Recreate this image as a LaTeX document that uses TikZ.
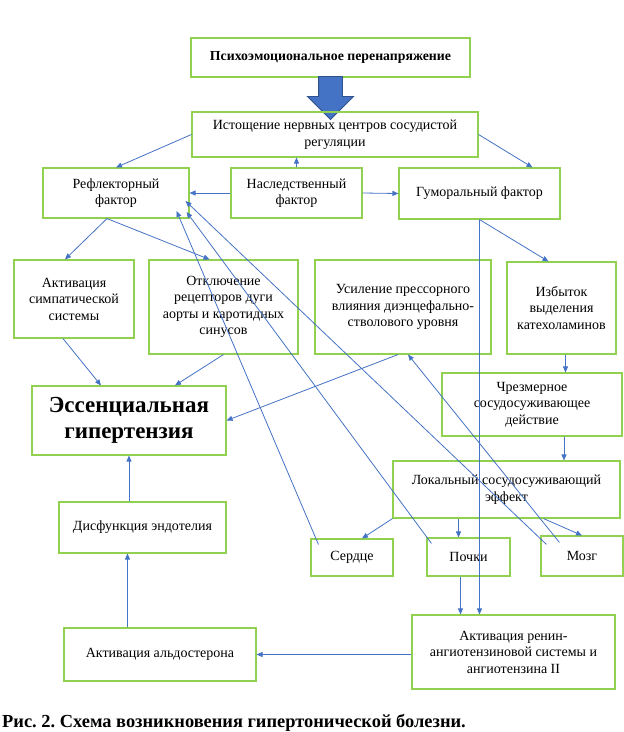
\documentclass[tikz,border=0pt]{standalone}
\usepackage{fontspec}
\setmainfont{Liberation Serif}
\frenchspacing
\usetikzlibrary{arrows.meta,calc,positioning,shapes.arrows}
\definecolor{boxgreen}{RGB}{146,208,80}
\definecolor{linkblue}{RGB}{68,114,196}
\definecolor{darkblue}{RGB}{47,82,143}
\tikzstyle{box} = [draw=boxgreen, line width=1.1pt, align=center, inner sep=2pt, font=\fontsize{14}{16.5}\selectfont]
\tikzstyle{arrow} = [draw=linkblue, line width=0.8pt, -{Triangle[length=6pt,width=5pt]}]
\begin{document}
\begin{tikzpicture}[x=1pt,y=-1pt]
\useasboundingbox (0,0) rectangle (624,732);
% top row
\draw (330.5,57.5) node (psycho) [box, minimum width=279pt, minimum height=39pt, font=\bfseries\fontsize{13.8}{16}\selectfont] {Психоэмоциональное перенапряжение};
\draw (330.5,92) node (bigarrow) [single arrow, shape border rotate=270, fill=linkblue, draw=darkblue, line width=0.8pt, inner sep=11.5pt, minimum height=43pt, single arrow head extend=11pt, single arrow head indent=0pt] {};
\draw (335,134.5) node (exhaust) [box, minimum width=286pt, minimum height=45pt] {Истощение нервных центров сосудистой\\регуляции};
\draw (116,193) node (reflex) [box, minimum width=146pt, minimum height=50pt] {Рефлекторный\\фактор};
\draw (296.5,193) node (hered) [box, minimum width=131pt, minimum height=50pt] {Наследственный\\фактор};
\draw (479.5,193.5) node (humoral) [box, minimum width=161pt, minimum height=51pt] {Гуморальный фактор};
% middle
\draw (74,299) node (sympact) [box, minimum width=120pt, minimum height=78pt] {Активация\\симпатической\\системы};
\draw (223.5,307) node (disable) [box, minimum width=149pt, minimum height=94pt] {Отключение\\рецепторов дуги\\аорты и каротидных\\синусов};
\draw (403,307) node (pressor) [box, minimum width=176pt, minimum height=94pt] {Усиление прессорного\\влияния диэнцефально-\\стволового уровня};
\draw (561.5,308) node (catechol) [box, minimum width=109pt, minimum height=92pt] {Избыток\\выделения\\катехоламинов};
\draw (129,420.5) node (essential) [box, minimum width=194pt, minimum height=69pt, font=\bfseries\fontsize{23}{25.5}\selectfont] {Эссенциальная\\гипертензия};
\draw (532,404.5) node (vasocon) [box, minimum width=180pt, minimum height=63pt] {Чрезмерное\\сосудосуживающее\\действие};
\draw (506.5,489.5) node (local) [box, minimum width=227pt, minimum height=57pt] {Локальный сосудосуживающий\\эффект};
\draw (142.5,527.5) node (endoth) [box, minimum width=167pt, minimum height=51pt] {Дисфункция эндотелия};
% organs
\draw (352,557.5) node (heart) [box, minimum width=82pt, minimum height=37pt] {Сердце};
\draw (468.5,557) node (kidney) [box, minimum width=83pt, minimum height=38pt] {Почки};
\draw (582,556) node (brain) [box, minimum width=82pt, minimum height=40pt] {Мозг};
% bottom
\draw (513.5,652) node (renin) [box, minimum width=203pt, minimum height=74pt] {Активация ренин-\\ангиотензиновой системы и\\ангиотензина II};
\draw (160,654.5) node (aldost) [box, minimum width=192pt, minimum height=53pt] {Активация альдостерона};
\draw (2,727) node (caption) [anchor=base west, inner sep=0pt, font=\bfseries\fontsize{18.4}{21}\selectfont] {Рис. 2. Схема возникновения гипертонической болезни.};
% links
\draw[arrow] (exhaust.west) -- (reflex.north);
\draw[arrow] (exhaust.east) -- ($(humoral.north)+(53,0)$);
\draw[arrow] (hered.north) -- (hered.north |- exhaust.south);
\draw[arrow] (hered.west) -- (reflex.east);
\draw[arrow] (hered.east) -- (humoral.west);
\draw[arrow] ($(reflex.south)+(-9,0)$) -- ($(sympact.north)+(-9,0)$);
\draw[arrow] ($(reflex.south)+(-9,0)$) -- ($(disable.north)+(-14,0)$);
\draw[arrow] ($(sympact.south)+(-11,0)$) -- ($(essential.north)+(-28,0)$);
\draw[arrow] (disable.south) -- ($(essential.north)+(46,0)$);
\draw[arrow] ($(pressor.south)+(-5,0)$) -- (essential.east);
\draw[arrow] (humoral.south) -- ($(catechol.north)+(-13,0)$);
\draw[arrow] (humoral.south) -- (humoral.south |- renin.north);
\draw[arrow] ($(catechol.south)+(4,0)$) -- ($(catechol.south |- vasocon.north)+(4,0)$);
\draw[arrow] ($(vasocon.south)+(32,0)$) -- ($(vasocon.south |- local.north)+(32,0)$);
\draw[arrow] (local.south west) -- ($(heart.north)+(10,0)$);
\draw[arrow] ($(kidney.north |- local.south)+(-10,0)$) -- ($(kidney.north)+(-10,0)$);
\draw[arrow] ($(local.south)+(37,0)$) -- (brain.north);
\draw[arrow] ($(kidney.south)+(-8,0)$) -- ($(kidney.south |- renin.north)+(-8,0)$);
\draw[arrow] (renin.west |- aldost.east) -- (aldost.east);
\draw[arrow] ($(endoth.south |- aldost.north)+(-15,0)$) -- ($(endoth.south)+(-15,0)$);
\draw[arrow] (essential.south |- endoth.north) -- (essential.south);
% feedback to reflex factor
\draw[arrow] ($(heart.north west)+(8,6)$) -- ($(reflex.east)+(-13,18)$);
\draw[arrow] ($(kidney.north west)+(5,6)$) -- ($(reflex.east)+(-3,19)$);
\draw[arrow] ($(brain.north west)+(6,9)$) -- ($(reflex.east)+(-4,8)$);
\draw[arrow] ($(brain.north west)+(19,7)$) -- ($(pressor.south)+(5,0)$);
\end{tikzpicture}
\end{document}
